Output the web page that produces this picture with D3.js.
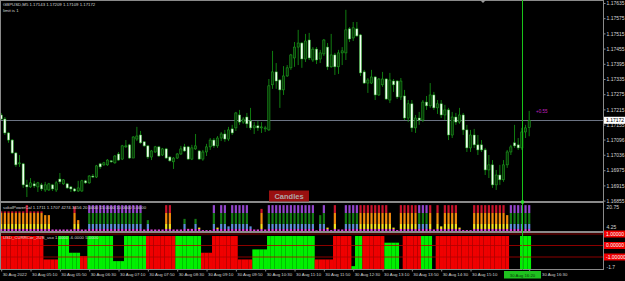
<!DOCTYPE html>
<html>
<head>
<meta charset="utf-8">
<script src="https://cdn.jsdelivr.net/npm/d3@7"></script>
<style>
  body { margin: 0; background: #000; }
  svg { display: block; font-family: "Liberation Sans", Arial, sans-serif; }
</style>
</head>
<body>
<div id="chart"></div>
<script>
// GBPUSD M5, 30 Aug 2022 04:30 .. 16:30
const opens = [
  1.17193,1.17177,1.17122,1.17094,1.17043,1.17000,1.17000,1.16917,1.16909,1.16921,
  1.16909,1.16917,1.16897,1.16897,1.16917,1.16897,1.16940,1.16921,1.16921,1.16909,
  1.16901,1.16893,1.16893,1.16933,1.16925,1.16952,1.16948,1.17000,1.16996,1.16996,
  1.17012,1.17004,1.17039,1.17019,1.17067,1.17075,1.17023,1.17098,1.17114,1.17087,
  1.17071,1.17027,1.17047,1.17067,1.17035,1.17059,1.17027,1.17008,1.17023,1.17039,
  1.17067,1.17067,1.17019,1.17059,1.17051,1.17019,1.17047,1.17067,1.17094,1.17071,
  1.17102,1.17118,1.17098,1.17138,1.17142,1.17193,1.17165,1.17185,1.17169,1.17142,
  1.17150,1.17142,1.17138,1.17134,1.17312,1.17363,1.17331,1.17292,1.17347,1.17379,
  1.17418,1.17461,1.17477,1.17414,1.17489,1.17410,1.17453,1.17414,1.17434,1.17461,
  1.17383,1.17430,1.17383,1.17438,1.17438,1.17533,1.17497,1.17533,1.17509,1.17363,
  1.17319,1.17319,1.17343,1.17272,1.17312,1.17335,1.17252,1.17327,1.17327,1.17264,
  1.17268,1.17181,1.17237,1.17142,1.17181,1.17173,1.17244,1.17229,1.17272,1.17221,
  1.17237,1.17193,1.17213,1.17114,1.17185,1.17165,1.17193,1.17134,1.17063,1.17114,
  1.17075,1.17075,1.17055,1.16976,1.16996,1.16917,1.16956,1.16937,1.16996,1.17047,
  1.17083,1.17075,1.17063,1.17126,1.17143
];
const highs = [
  1.17201,1.17185,1.17126,1.17098,1.17047,1.17035,1.17004,1.16937,1.16944,1.16933,
  1.16929,1.16925,1.16929,1.16925,1.16921,1.16933,1.16964,1.16940,1.16925,1.16913,
  1.16905,1.16933,1.16937,1.16937,1.16956,1.16960,1.16996,1.17004,1.17008,1.17019,
  1.17015,1.17035,1.17047,1.17075,1.17094,1.17079,1.17110,1.17146,1.17130,1.17090,
  1.17075,1.17055,1.17071,1.17071,1.17063,1.17063,1.17031,1.17027,1.17043,1.17071,
  1.17079,1.17071,1.17075,1.17118,1.17055,1.17055,1.17079,1.17102,1.17102,1.17110,
  1.17126,1.17134,1.17146,1.17154,1.17205,1.17213,1.17185,1.17201,1.17221,1.17165,
  1.17169,1.17165,1.17150,1.17335,1.17446,1.17398,1.17335,1.17386,1.17390,1.17434,
  1.17481,1.17529,1.17481,1.17513,1.17517,1.17461,1.17461,1.17450,1.17493,1.17477,
  1.17513,1.17438,1.17450,1.17461,1.17608,1.17540,1.17560,1.17560,1.17513,1.17371,
  1.17339,1.17371,1.17347,1.17339,1.17363,1.17339,1.17359,1.17335,1.17331,1.17339,
  1.17292,1.17252,1.17252,1.17193,1.17205,1.17252,1.17268,1.17319,1.17284,1.17252,
  1.17252,1.17233,1.17221,1.17205,1.17201,1.17221,1.17201,1.17154,1.17134,1.17138,
  1.17114,1.17094,1.17063,1.17035,1.17015,1.16976,1.16996,1.17015,1.17055,1.17075,
  1.17154,1.17102,1.17142,1.17154,1.17209
];
const lows = [
  1.17173,1.17114,1.17083,1.17039,1.16988,1.16988,1.16905,1.16869,1.16905,1.16905,
  1.16889,1.16893,1.16889,1.16893,1.16893,1.16889,1.16921,1.16917,1.16901,1.16889,
  1.16889,1.16889,1.16889,1.16921,1.16921,1.16944,1.16944,1.16980,1.16992,1.16992,
  1.17004,1.17000,1.17012,1.17015,1.17063,1.17019,1.17023,1.17090,1.17079,1.17067,
  1.17019,1.17015,1.17043,1.17027,1.17031,1.17019,1.17008,1.16980,1.17019,1.17035,
  1.17047,1.17015,1.17015,1.17055,1.17015,1.17012,1.17031,1.17055,1.17063,1.17063,
  1.17090,1.17087,1.17090,1.17114,1.17130,1.17154,1.17158,1.17142,1.17134,1.17118,
  1.17130,1.17122,1.17126,1.17130,1.17296,1.17296,1.17221,1.17272,1.17343,1.17371,
  1.17383,1.17390,1.17379,1.17402,1.17410,1.17402,1.17394,1.17398,1.17426,1.17371,
  1.17379,1.17351,1.17355,1.17390,1.17410,1.17481,1.17485,1.17501,1.17347,1.17315,
  1.17280,1.17315,1.17252,1.17268,1.17304,1.17252,1.17240,1.17284,1.17256,1.17252,
  1.17173,1.17165,1.17126,1.17122,1.17154,1.17165,1.17213,1.17221,1.17213,1.17197,
  1.17181,1.17173,1.17094,1.17102,1.17154,1.17158,1.17114,1.17047,1.17047,1.17063,
  1.17035,1.17047,1.16956,1.16944,1.16905,1.16897,1.16917,1.16929,1.16984,1.17035,
  1.17063,1.17055,1.17055,1.17102,1.17109
];
const closes = [
  1.17177,1.17122,1.17094,1.17043,1.16996,1.17004,1.16917,1.16909,1.16925,1.16913,
  1.16925,1.16901,1.16917,1.16921,1.16901,1.16925,1.16929,1.16937,1.16905,1.16901,
  1.16893,1.16905,1.16933,1.16925,1.16952,1.16948,1.16992,1.16988,1.17004,1.17015,
  1.17008,1.17031,1.17015,1.17071,1.17071,1.17023,1.17106,1.17110,1.17083,1.17071,
  1.17027,1.17051,1.17067,1.17031,1.17059,1.17023,1.17012,1.17023,1.17039,1.17059,
  1.17051,1.17019,1.17063,1.17071,1.17019,1.17047,1.17067,1.17094,1.17071,1.17102,
  1.17118,1.17098,1.17134,1.17122,1.17201,1.17165,1.17177,1.17158,1.17142,1.17150,
  1.17142,1.17146,1.17142,1.17308,1.17363,1.17327,1.17292,1.17347,1.17379,1.17430,
  1.17461,1.17477,1.17414,1.17485,1.17418,1.17453,1.17410,1.17438,1.17489,1.17383,
  1.17430,1.17383,1.17438,1.17446,1.17529,1.17493,1.17537,1.17505,1.17359,1.17319,
  1.17331,1.17343,1.17272,1.17335,1.17335,1.17256,1.17331,1.17312,1.17264,1.17327,
  1.17181,1.17237,1.17142,1.17181,1.17173,1.17244,1.17229,1.17272,1.17221,1.17237,
  1.17193,1.17213,1.17114,1.17185,1.17165,1.17193,1.17134,1.17063,1.17114,1.17075,
  1.17055,1.17055,1.16976,1.16996,1.16917,1.16956,1.16937,1.16996,1.17047,1.17067,
  1.17071,1.17063,1.17126,1.17142,1.17172
];

// power histogram: value and direction (1 up, -1 down)
const powerVal = [
  17,17,17,17,17,17,17,22,17,17, 17,17,14,14,2.5,2.5,2.5,2.5,2.5,2.5,
  21,10,2.5,2.5,22,22,22,22,22,22, 22,22,22,22,22,22,22,22,22,2.5,
  10,2.5,2.5,2.5,2.5,22,22,2.5,2.5,2.5, 11,3,3,11,4,2,2,2,22,4,
  22,22,5,22,22,22,22,22,5,2.5, 2.5,19,2.5,22,22,22,22,22,22,22,
  22,22,22,22,22,22,1.8,14,22,4, 2,22,2.5,2.5,22,22,22,22,22,22,
  22,22,22,22,22,22,16,4,2,22, 22,22,22,22,22,22,22,22,2.5,22,
  5,22,22,22,22,4,2,2,2,22, 22,22,22,22,22,22,22,22,14,22,
  22,22,22,22,22
];
const powerDir = [
  -1,-1,-1,-1,-1,-1,-1,-1,-1,-1, -1,-1,-1,-1,-1,1,1,-1,-1,-1,
  -1,-1,1,1,1,1,1,1,1,1, 1,1,1,1,1,1,1,1,1,1,
  1,1,-1,1,-1,-1,-1,-1,1,-1, 1,-1,-1,1,-1,1,-1,1,1,-1,
  1,1,1,1,1,1,1,1,1,1, 1,-1,-1,1,1,1,1,1,1,1,
  1,1,1,1,1,1,-1,1,1,-1, 1,-1,1,1,1,1,1,1,-1,-1,
  -1,-1,-1,-1,-1,-1,-1,-1,-1,-1, -1,-1,-1,-1,1,1,1,-1,1,-1,
  -1,-1,-1,-1,-1,-1,1,-1,1,-1, -1,-1,-1,-1,-1,-1,-1,-1,-1,1,
  1,1,1,1,1
];
const powerBands = [2.9, 6.9, 15.7];

// correlation histogram, sign gives colour
const corrVal = [
  -1,-1,-1,-1,-1,-1,-1,-1,-1,-1, -1,-1,-0.3,-0.3,-0.3,-0.3,1,1,1,0.5,
  0.5,0.5,-0.4,-0.4,1,1,1,1,1,1, 1,0.25,0.25,0.25,1,1,1,1,1,1,
  -1,-1,-1,-1,-1,-1,-1,-1,1,1, 1,1,1,1,1,-0.5,-0.5,-0.5,-1,-1,
  -1,-1,-1,-1,-1,-0.3,-0.3,-0.3,-0.3,0.6, 0.6,0.6,0.6,1,1,1,1,1,1,1,
  1,1,1,1,1,1,-0.3,-0.3,-0.3,-0.3, -0.3,-1,-1,-1,-1,-1,0.1,1,1,-1,
  -1,-1,-1,-1,-1,0.8,0.8,0.8,0.8,0, -1,-1,-1,-1,-1,1,1,1,0,-1,
  -1,-1,-1,-1,-1,-1,-1,-1,-1,-1, -1,-1,-1,-1,-1,-1,-1,-1,-1,0,
  0,0,1,1,1
];

const priceTicks = [1.17635,1.17575,1.17515,1.17455,1.17395,1.17335,1.17275,1.17215,1.17155,1.17096,1.17036,1.16975,1.16915,1.16855];
// the 15:50 label sits under the vertical line's time box and is not seen
const timeBars = [0,8,16,24,32,40,48,56,64,72,80,88,96,104,112,120,128,144];
const timeLabels = ["30 Aug 2022","30 Aug 05:10","30 Aug 05:50","30 Aug 06:30","30 Aug 07:10","30 Aug 07:50",
  "30 Aug 08:30","30 Aug 09:10","30 Aug 09:50","30 Aug 10:30","30 Aug 11:10","30 Aug 11:50","30 Aug 12:30",
  "30 Aug 13:10","30 Aug 13:50","30 Aug 14:30","30 Aug 15:10","30 Aug 16:30"];
const vlineBar = 142;
const vlineLabel = "30 Aug 16:20";
const powerTicks = [20.75, 4.25];
const corrLevels = [1, 0, -1];

const W = 625, H = 281;
const plotRight = 603;
const n = closes.length;
const gray = "#8a8a8a";
const textCol = "#d6d6d6";

const svg = d3.select("#chart").append("svg")
  .attr("width", W)
  .attr("height", H);
svg.append("rect").attr("width", W).attr("height", H).attr("fill", "#000");

const x = d3.scaleLinear().domain([0, 144]).range([1.2, 529.2]);
const y = d3.scaleLinear().domain([1.16855, 1.17635]).range([200.6, 3]);
const py = d3.scaleLinear().domain([4.25, 20.75]).range([227.3, 206.7]);
const cy = d3.scaleLinear().domain([-1, 1]).range([257, 234]);

const pBottom = 231, cBottom = 269.5;

// ---- main window
const main = svg.append("g");
main.append("line")
  .attr("x1", 0).attr("x2", plotRight)
  .attr("y1", Math.round(y(closes[n - 1])) + 0.5).attr("y2", Math.round(y(closes[n - 1])) + 0.5)
  .attr("stroke", "#6b7383").attr("stroke-width", 1);

main.selectAll(".wick")
  .data(d3.range(n))
  .join("line")
  .attr("class", "wick")
  .attr("x1", i => x(i)).attr("x2", i => x(i))
  .attr("y1", i => y(highs[i])).attr("y2", i => y(lows[i]))
  .attr("stroke", "#128a12")
  .attr("stroke-width", 0.9);

const bodyW = 2.2;
main.selectAll(".body")
  .data(d3.range(n))
  .join("rect")
  .attr("class", "body")
  .attr("x", i => x(i) - bodyW / 2)
  .attr("y", i => y(Math.max(opens[i], closes[i])))
  .attr("width", bodyW)
  .attr("height", i => Math.max(0.8, Math.abs(y(opens[i]) - y(closes[i]))))
  .attr("fill", i => closes[i] >= opens[i] ? "#063806" : "#f2fff2")
  .attr("stroke", "#24b024")
  .attr("stroke-width", 0.5);

// ---- power window
const pw = svg.append("g");
const upCols = ["#e040e0", "#5b8fd6", "#137a13", "#9346cc"];
const dnCols = ["#e040e0", "#f4e21c", "#f08a0c", "#c8142c"];
const bandLo = [py.invert(pBottom), ...powerBands];
const bandHi = [...powerBands, 30];
const segs = [];
powerVal.forEach((v, i) => {
  bandLo.forEach((lo, k) => {
    if (v > lo) segs.push({ i, lo, hi: Math.min(v, bandHi[k]), k });
  });
});
pw.selectAll(".pbar")
  .data(segs)
  .join("rect")
  .attr("class", "pbar")
  .attr("x", d => x(d.i) - 1.1)
  .attr("width", 2.2)
  .attr("y", d => py(d.hi))
  .attr("height", d => py(d.lo) - py(d.hi))
  .attr("fill", d => powerDir[d.i] > 0 ? upCols[d.k] : dnCols[d.k]);

// ---- correlation window
const cw = svg.append("g");
cw.selectAll(".cbar")
  .data(d3.range(n).filter(i => corrVal[i] !== 0))
  .join("rect")
  .attr("class", "cbar")
  .attr("x", i => x(i) - 1.84)
  .attr("width", 3.7)
  .attr("y", i => cBottom - Math.abs(corrVal[i]) * (cBottom - 236))
  .attr("height", i => Math.abs(corrVal[i]) * (cBottom - 236))
  .attr("fill", i => corrVal[i] > 0 ? "#00f000" : "#f00000");
cw.selectAll(".clevel")
  .data(corrLevels)
  .join("line")
  .attr("x1", 0).attr("x2", plotRight)
  .attr("y1", d => cy(d)).attr("y2", d => cy(d))
  .attr("stroke", "#b00000").attr("stroke-width", 0.8);

// ---- frames
const frame = svg.append("g").attr("stroke", gray).attr("fill", "none");
frame.append("line").attr("x1", 0).attr("x2", plotRight).attr("y1", 0.5).attr("y2", 0.5);
frame.append("line").attr("x1", 0.5).attr("x2", 0.5).attr("y1", 0).attr("y2", 270);
frame.append("line").attr("x1", plotRight + 0.5).attr("x2", plotRight + 0.5).attr("y1", 0).attr("y2", 270);
frame.append("line").attr("x1", 0).attr("x2", plotRight).attr("y1", 202).attr("y2", 202).attr("stroke-width", 2);
frame.append("line").attr("x1", 0).attr("x2", plotRight).attr("y1", 232).attr("y2", 232).attr("stroke-width", 2);
frame.append("line").attr("x1", 0).attr("x2", plotRight + 1).attr("y1", 269.5).attr("y2", 269.5);

// ---- price axis
const yAxis = d3.axisRight(y).tickValues(priceTicks).tickSize(2).tickPadding(1).tickFormat(d3.format(".5f"));
const yAxisEl = svg.append("g").attr("transform", `translate(${plotRight + 0.5},0)`).call(yAxis);
yAxisEl.select(".domain").remove();
yAxisEl.selectAll("line").attr("stroke", gray);
yAxisEl.selectAll("text").attr("fill", textCol).attr("font-size", 5).attr("font-family", "Liberation Sans, Arial, sans-serif");

// current price box
const lastY = y(closes[n - 1]);
svg.append("rect").attr("x", plotRight + 1).attr("y", lastY - 3.5).attr("width", 21).attr("height", 7).attr("fill", "#fff");
svg.append("text").attr("x", plotRight + 3).attr("y", lastY + 1.8).attr("font-size", 5).attr("fill", "#000")
  .text(d3.format(".5f")(closes[n - 1]));

// power axis labels
svg.selectAll(".ptick")
  .data(powerTicks)
  .join("text")
  .attr("x", plotRight + 3.5).attr("y", d => py(d) + 1.8)
  .attr("font-size", 5).attr("fill", textCol)
  .text(d => d);

// corr labels
const corrLabelText = ["1.00000", "0.00000", "-1.00000"];
corrLevels.forEach((v, k) => {
  svg.append("rect").attr("x", plotRight + 1).attr("y", cy(v) - 3.5).attr("width", 21).attr("height", 7).attr("fill", "#f00000");
  svg.append("text").attr("x", plotRight + 3).attr("y", cy(v) + 1.8).attr("font-size", 5).attr("fill", "#fff").text(corrLabelText[k]);
});
svg.append("text").attr("x", plotRight + 3.5).attr("y", 268.5).attr("font-size", 5).attr("fill", textCol).text("-1.7");

// ---- time axis
const vx = Math.round(x(vlineBar)) + 0.5;
const xAxis = d3.axisBottom(x).tickValues(timeBars).tickSize(2).tickFormat((d, k) => timeLabels[k]);
const xAxisEl = svg.append("g").attr("transform", "translate(0,269.5)").call(xAxis);
xAxisEl.select(".domain").remove();
xAxisEl.selectAll("line").attr("stroke", gray);
xAxisEl.selectAll("text")
  .attr("fill", textCol).attr("font-size", 4.3)
  .attr("text-anchor", "start").attr("dx", 1).attr("dy", "0.3em")
  .attr("font-family", "Liberation Sans, Arial, sans-serif");
// label that runs under the time box starts just after it
xAxisEl.selectAll(".tick")
  .filter(d => d > vlineBar)
  .select("text")
  .attr("dx", vx + 19 - x(144));

// ---- vertical line
svg.append("line").attr("x1", vx).attr("x2", vx).attr("y1", 0).attr("y2", 270)
  .attr("stroke", "#19c419").attr("stroke-width", 1);
svg.append("rect").attr("x", vx - 1.5).attr("y", 200.5).attr("width", 3).attr("height", 3).attr("fill", "#2fe02f");
svg.append("rect").attr("x", vx - 18.5).attr("y", 271).attr("width", 37).attr("height", 7.5).attr("fill", "#1fc21f");
svg.append("text").attr("x", vx).attr("y", 276.5).attr("text-anchor", "middle")
  .attr("font-size", 4.3).attr("fill", "#0a3a0a").text(vlineLabel);

// shift marker
svg.append("path").attr("d", "M480,0 L486,0 L483,3 Z").attr("fill", "#9a9a9a");

// ---- texts
svg.append("text").attr("x", 3).attr("y", 5.5).attr("font-size", 4.3).attr("fill", textCol)
  .text("GBPUSD,M5  1.17143 1.17209 1.17109 1.17172");
svg.append("text").attr("x", 3).attr("y", 11.5).attr("font-size", 4.3).attr("fill", textCol)
  .text("limit is 1");
svg.append("text").attr("x", 536).attr("y", 113).attr("font-size", 4.5).attr("fill", "#c020c0").text("+0.55");

svg.append("rect").attr("x", 269).attr("y", 190.5).attr("width", 40).attr("height", 11).attr("fill", "#9a1010");
svg.append("text").attr("x", 289).attr("y", 199).attr("text-anchor", "middle").attr("font-size", 7.5)
  .attr("font-weight", "bold").attr("fill", "#b0a8a8").text("Candles");

svg.append("text").attr("x", 3).attr("y", 209).attr("font-size", 4.3).attr("fill", textCol)
  .text("sokolPowerCal 1.1711 1.1707 4274.3456 20.0000 15.0000 10.0000 5.0000");
svg.append("text").attr("x", 3).attr("y", 238.5).attr("font-size", 4.3).attr("fill", textCol)
  .text("USD_CURRCor_2US_uso 1.0000 -6.0000 5.0000");
</script>
</body>
</html>
